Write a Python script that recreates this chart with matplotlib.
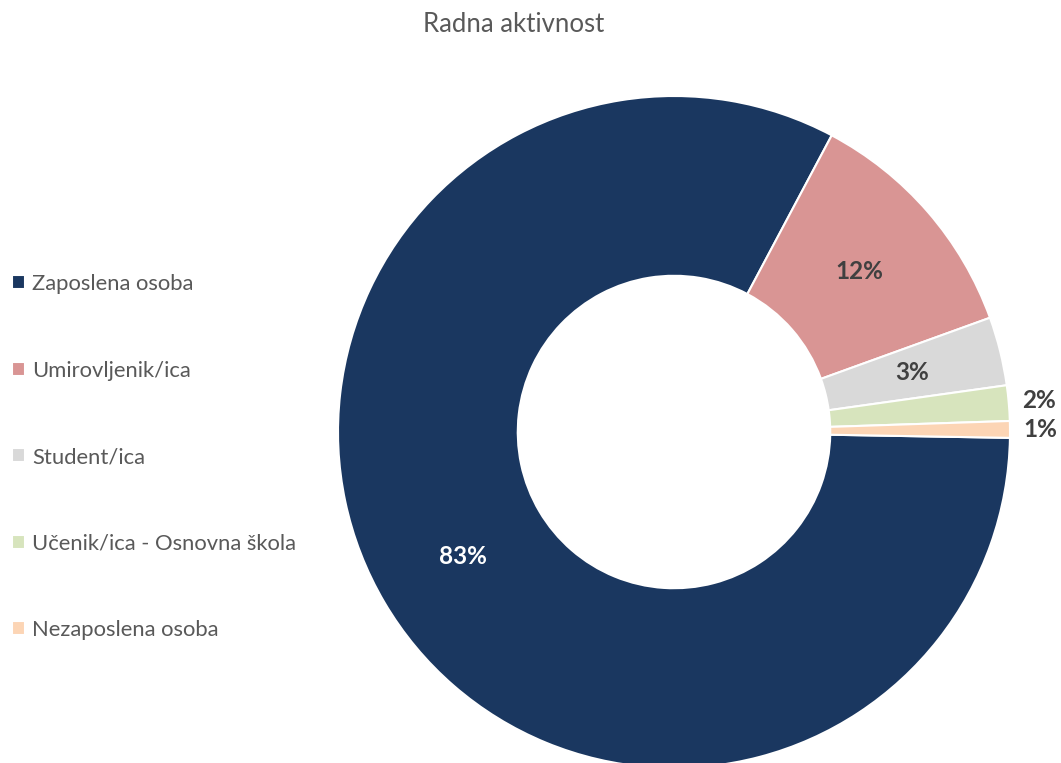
import numpy as np
import matplotlib
matplotlib.use('Agg')
import matplotlib.pyplot as plt

categories = ['Zaposlena osoba', 'Umirovljenik/ica', 'Student/ica',
              'Učenik/ica - Osnovna škola', 'Nezaposlena osoba']
values = [82.5, 11.7, 3.3, 1.7, 0.8]
labels = ['83%', '12%', '3%', '2%', '1%']
colors = ['#1A3760', '#D99594', '#D9D9D9', '#D7E4BD', '#FCD5B5']

plt.rcParams['font.family'] = ['Lato', 'DejaVu Sans']

fig = plt.figure(figsize=(10.61, 7.63), dpi=100)
W, H = 1061, 763
cx, cy, r = 674, 432, 336
ax = fig.add_axes([(cx - r) / W, (H - cy - r) / H, 2 * r / W, 2 * r / H])

wedges, _ = ax.pie(values, colors=colors, startangle=-1, counterclock=False,
                   radius=1, wedgeprops=dict(width=0.535, edgecolor='white', linewidth=1.5))
ax.set_xlim(-1, 1)
ax.set_ylim(-1, 1)
ax.set_aspect('equal')
ax.axis('off')
for w in wedges:
    w.set_clip_on(False)

for w, lab, v in zip(wedges, labels, values):
    mid = np.deg2rad((w.theta1 + w.theta2) / 2)
    if v >= 3:
        rad = 0.73
        col = 'white' if lab == '83%' else '#404040'
    else:
        rad = 1.09
        col = '#404040'
    ax.text(rad * np.cos(mid), rad * np.sin(mid), lab, ha='center', va='center',
            fontsize=17.5, fontweight='bold', color=col, clip_on=False)

fig.text(514 / W, 1 - 25 / H, 'Radna aktivnost', ha='center', va='center',
         fontsize=18.5, color='#595959')

leg = fig.legend(wedges, categories, loc='upper left', bbox_to_anchor=(0.0, 1 - 262 / H),
                 frameon=False, fontsize=15.8, labelcolor='#595959',
                 handlelength=0.6, handleheight=0.6, handletextpad=0.3,
                 labelspacing=3.03, borderaxespad=0.15)

fig.savefig('out.png', dpi=100, facecolor='white')
